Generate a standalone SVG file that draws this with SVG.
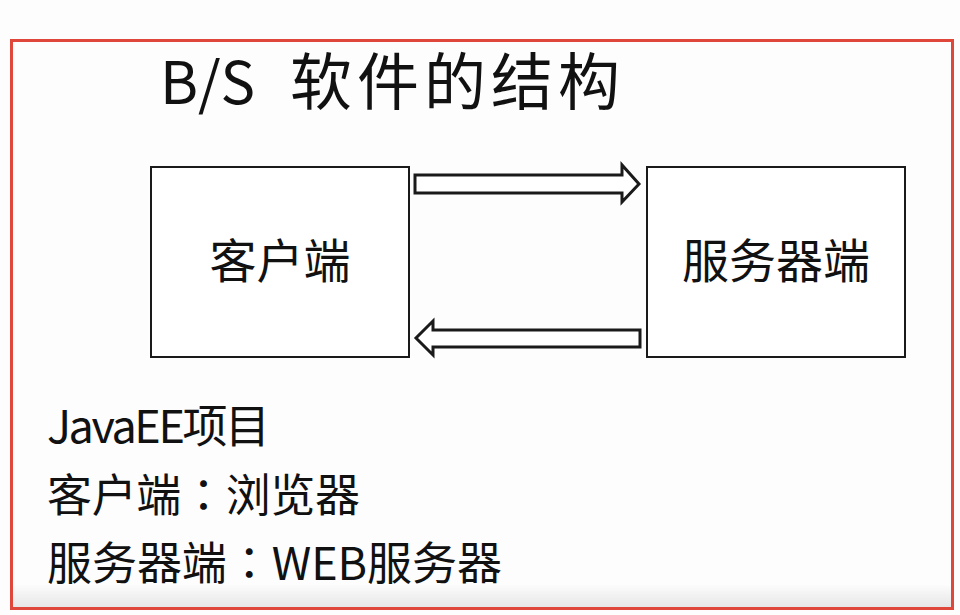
<svg xmlns="http://www.w3.org/2000/svg" width="960" height="615" viewBox="0 0 960 615">
  <defs>
    <linearGradient id="bottomShade" x1="0" y1="0" x2="0" y2="1">
      <stop offset="0" stop-color="#fcfcfc"/>
      <stop offset="1" stop-color="#e6e6e6"/>
    </linearGradient>
  </defs>
  <style>
    .frame { fill: #fdfdfd; stroke: #e0473b; stroke-width: 3; }
    .box { fill: #ffffff; stroke: #1a1a1a; stroke-width: 2; }
    .arrow { fill: #ffffff; stroke: #1a1a1a; stroke-width: 3; stroke-linejoin: miter; }
    .t { font-family: "Noto Sans CJK SC", "Noto Sans", sans-serif; fill: #111111; }
    .colon { font-family: "Noto Sans CJK TC", "Noto Sans CJK SC", sans-serif; }
    .title { font-size: 58px; }
    .titlecn { font-size: 62px; }
    .label { font-size: 47px; text-anchor: middle; }
    .body { font-size: 45px; }
  </style>
  <rect x="0" y="0" width="960" height="615" fill="#fcfdfc"/>
  <rect class="frame" x="11.5" y="40.5" width="941" height="568"/>
  <rect x="13" y="585" width="938" height="22" fill="url(#bottomShade)"/>
  <text class="t title" x="160" y="104" textLength="95" lengthAdjust="spacing">B/S</text>
  <text class="t titlecn" x="290" y="105" textLength="330" lengthAdjust="spacing">软件的结构</text>

  <g id="connectors">
    <polygon class="arrow" points="415,175 622,175 622,165 639,184 622,202 622,193 415,193"/>
    <polygon class="arrow" points="640,330 433,330 433,321 416,338 433,355 433,347 640,347"/>
  </g>

  <g id="client">
    <rect class="box" x="151" y="167" width="258" height="190"/>
    <text class="t label" x="280" y="278">客户端</text>
  </g>

  <g id="server">
    <rect class="box" x="647" y="167" width="258" height="190"/>
    <text class="t label" x="776" y="278">服务器端</text>
  </g>

  <g id="notes">
    <text class="t body" x="47" y="443" textLength="223" lengthAdjust="spacing">JavaEE项目</text>
    <text class="t body" x="47" y="512" textLength="313" lengthAdjust="spacing">客户端<tspan class="colon">：</tspan>浏览器</text>
    <text class="t body" x="47" y="580" textLength="455" lengthAdjust="spacing">服务器端<tspan class="colon">：</tspan>WEB服务器</text>
  </g>
</svg>
